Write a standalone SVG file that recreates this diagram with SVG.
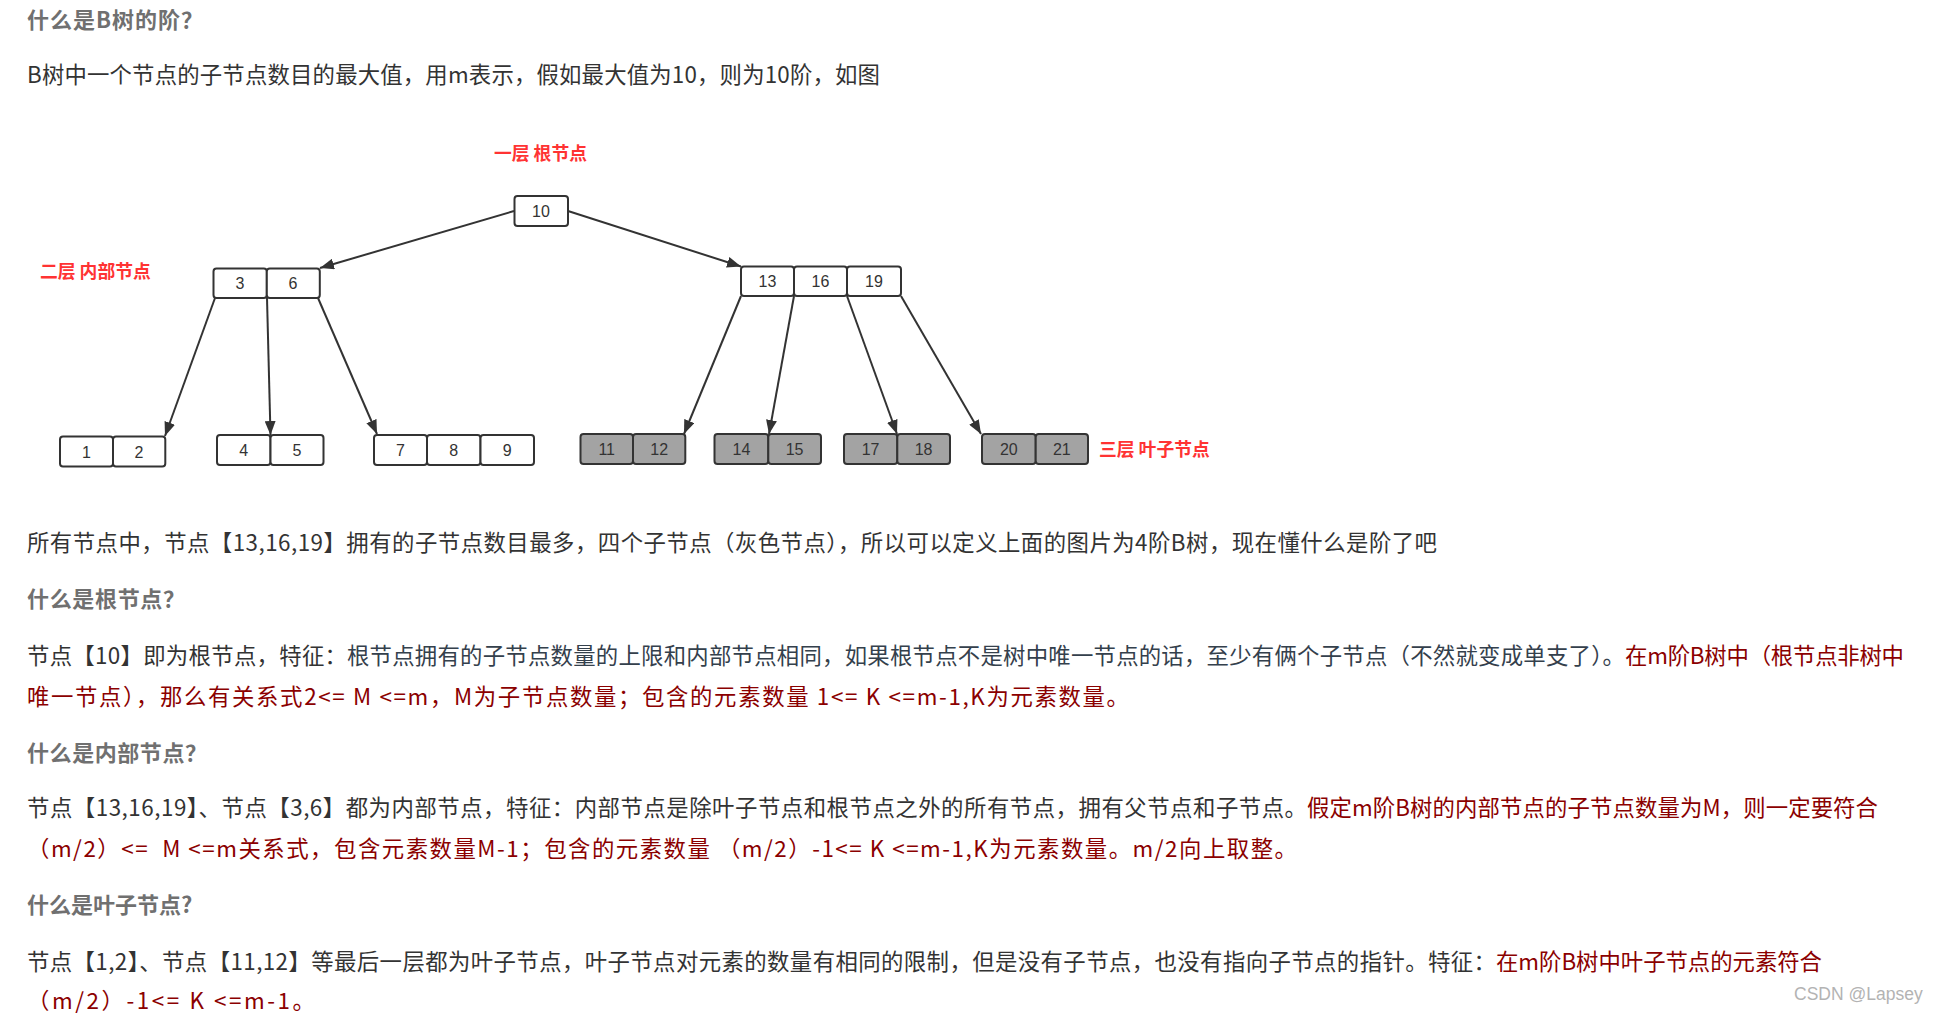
<svg xmlns="http://www.w3.org/2000/svg" width="1943" height="1014" viewBox="0 0 1943 1014">
<defs>
<style>
.bg{fill:#ffffff}
.h{font-family:"Noto Sans CJK SC","Liberation Sans",sans-serif;font-size:22px;font-weight:bold;fill:#707070}
.t{font-family:"Noto Sans CJK SC","Liberation Sans",sans-serif;font-size:22.4px;fill:#333333}
.r{fill:#8b0000}
.s{fill:#34404c}
.lab{font-family:"Noto Sans CJK SC","Liberation Sans",sans-serif;font-size:17.8px;font-weight:bold;fill:#ff3333}
.cell{fill:#ffffff;stroke:#333333;stroke-width:2}
.leaf{fill:#a3a3a3;stroke:#333333;stroke-width:2}
.num{font-family:"Liberation Sans","DejaVu Sans",sans-serif;font-size:16px;fill:#333333;text-anchor:middle}
.edge{stroke:#333333;stroke-width:2;fill:none;marker-end:url(#ah)}
.wm{font-family:"Liberation Sans",sans-serif;font-size:17.5px;fill:#b3b3b3}
</style>
<marker id="ah" markerUnits="userSpaceOnUse" markerWidth="15" markerHeight="11" refX="14" refY="5.5" orient="auto">
<path d="M0,0 L14,5.5 L0,11 z" fill="#333333"/>
</marker>
</defs>
<rect class="bg" x="0" y="0" width="1943" height="1014"/>

<g id="text-top">
<text class="h" x="27" y="28" textLength="176" lengthAdjust="spacing">什么是B树的阶？</text>
<text class="t" x="27" y="83" textLength="853" lengthAdjust="spacing">B树中一个节点的子节点数目的最大值，用m表示，假如最大值为10，则为10阶，如图</text>
</g>

<g id="labels">
<text class="lab" x="494" y="160">一层 根节点</text>
<text class="lab" x="40" y="278">二层 内部节点</text>
<text class="lab" x="1099" y="456">三层 叶子节点</text>
</g>

<g id="connectors">
<line class="edge" x1="514" y1="211" x2="320" y2="268"/>
<line class="edge" x1="568" y1="211" x2="741" y2="266.5"/>
<line class="edge" x1="215" y1="298" x2="165" y2="436"/>
<line class="edge" x1="267" y1="298" x2="270.5" y2="435"/>
<line class="edge" x1="318" y1="298" x2="377" y2="434"/>
<line class="edge" x1="741" y1="296" x2="684" y2="434"/>
<line class="edge" x1="794" y1="296" x2="769" y2="434"/>
<line class="edge" x1="847" y1="296" x2="897" y2="434"/>
<line class="edge" x1="901" y1="296" x2="981" y2="434"/>
</g>

<g id="node-10">
<rect class="cell" x="514.5" y="196" width="53.5" height="30" rx="3"/>
<text class="num" x="541" y="217">10</text>
</g>

<g id="node-3-6">
<rect class="cell" x="213.5" y="268.5" width="53.3" height="29.5" rx="3"/>
<rect class="cell" x="266.8" y="268.5" width="53" height="29.5" rx="3"/>
<text class="num" x="240" y="289">3</text>
<text class="num" x="293" y="289">6</text>
</g>

<g id="node-13-16-19">
<rect class="cell" x="741" y="266.5" width="53" height="29.5" rx="3"/>
<rect class="cell" x="794" y="266.5" width="53" height="29.5" rx="3"/>
<rect class="cell" x="847" y="266.5" width="54" height="29.5" rx="3"/>
<text class="num" x="767.5" y="287">13</text>
<text class="num" x="820.5" y="287">16</text>
<text class="num" x="874" y="287">19</text>
</g>

<g id="leaf-1-2">
<rect class="cell" x="60" y="436.5" width="53" height="30" rx="3"/>
<rect class="cell" x="113" y="436.5" width="52.3" height="30" rx="3"/>
<text class="num" x="86.5" y="457.5">1</text>
<text class="num" x="139" y="457.5">2</text>
</g>

<g id="leaf-4-5">
<rect class="cell" x="217" y="435" width="53.5" height="30" rx="3"/>
<rect class="cell" x="270.5" y="435" width="53" height="30" rx="3"/>
<text class="num" x="243.7" y="456">4</text>
<text class="num" x="297" y="456">5</text>
</g>

<g id="leaf-7-8-9">
<rect class="cell" x="374" y="435" width="53" height="30" rx="3"/>
<rect class="cell" x="427" y="435" width="53.5" height="30" rx="3"/>
<rect class="cell" x="480.5" y="435" width="53.5" height="30" rx="3"/>
<text class="num" x="400.5" y="456">7</text>
<text class="num" x="453.7" y="456">8</text>
<text class="num" x="507.2" y="456">9</text>
</g>

<g id="leaf-11-12">
<rect class="leaf" x="580.5" y="434" width="52.5" height="30" rx="3"/>
<rect class="leaf" x="633" y="434" width="52.3" height="30" rx="3"/>
<text class="num" x="606.7" y="455">11</text>
<text class="num" x="659.2" y="455">12</text>
</g>

<g id="leaf-14-15">
<rect class="leaf" x="714.5" y="434" width="53.8" height="30" rx="3"/>
<rect class="leaf" x="768.3" y="434" width="52.7" height="30" rx="3"/>
<text class="num" x="741.4" y="455">14</text>
<text class="num" x="794.6" y="455">15</text>
</g>

<g id="leaf-17-18">
<rect class="leaf" x="844" y="434" width="53.3" height="30" rx="3"/>
<rect class="leaf" x="897.3" y="434" width="52.7" height="30" rx="3"/>
<text class="num" x="870.6" y="455">17</text>
<text class="num" x="923.6" y="455">18</text>
</g>

<g id="leaf-20-21">
<rect class="leaf" x="982" y="434" width="53.7" height="30" rx="3"/>
<rect class="leaf" x="1035.7" y="434" width="52.3" height="30" rx="3"/>
<text class="num" x="1008.8" y="455">20</text>
<text class="num" x="1061.8" y="455">21</text>
</g>

<g id="text-body">
<text class="t" x="27" y="551" textLength="1410" lengthAdjust="spacing">所有节点中，节点【13,16,19】拥有的子节点数目最多，四个子节点（灰色节点），所以可以定义上面的图片为4阶B树，现在懂什么是阶了吧</text>

<text class="h" x="27" y="607" textLength="158" lengthAdjust="spacing">什么是根节点？</text>
<text class="t" x="27" y="664" textLength="320" lengthAdjust="spacing">节点【10】即为根节点，特征：</text>
<text class="t s" x="347" y="664" textLength="1278" lengthAdjust="spacing">根节点拥有的子节点数量的上限和内部节点相同，如果根节点不是树中唯一节点的话，至少有俩个子节点（不然就变成单支了）。</text>
<text class="t r" x="1625" y="664" textLength="279" lengthAdjust="spacing">在m阶B树中（根节点非树中</text>
<text class="t r" x="27" y="705" textLength="1102" lengthAdjust="spacing">唯一节点），那么有关系式2&lt;= M &lt;=m，M为子节点数量；包含的元素数量 1&lt;= K &lt;=m-1,K为元素数量。</text>

<text class="h" x="27" y="761" textLength="180" lengthAdjust="spacing">什么是内部节点？</text>
<text class="t" x="27" y="816" textLength="1280" lengthAdjust="spacing">节点【13,16,19】、节点【3,6】都为内部节点，特征：内部节点是除叶子节点和根节点之外的所有节点，拥有父节点和子节点。</text>
<text class="t r" x="1307" y="816" textLength="571" lengthAdjust="spacing">假定m阶B树的内部节点的子节点数量为M，则一定要符合</text>
<text class="t r" x="27" y="857" textLength="1270" lengthAdjust="spacing" xml:space="preserve">（m/2）&lt;=  M &lt;=m关系式，包含元素数量M-1；包含的元素数量 （m/2）-1&lt;= K &lt;=m-1,K为元素数量。m/2向上取整。</text>

<text class="h" x="27" y="913">什么是叶子节点?</text>
<text class="t" x="27" y="970" textLength="1469" lengthAdjust="spacing">节点【1,2】、节点【11,12】等最后一层都为叶子节点，叶子节点对元素的数量有相同的限制，但是没有子节点，也没有指向子节点的指针。特征：</text>
<text class="t r" x="1496" y="970" textLength="326" lengthAdjust="spacing">在m阶B树中叶子节点的元素符合</text>
<text class="t r" x="27" y="1009" textLength="288" lengthAdjust="spacing">（m/2）-1&lt;= K &lt;=m-1。</text>
</g>

<text class="wm" x="1794" y="1000">CSDN @Lapsey</text>
</svg>
